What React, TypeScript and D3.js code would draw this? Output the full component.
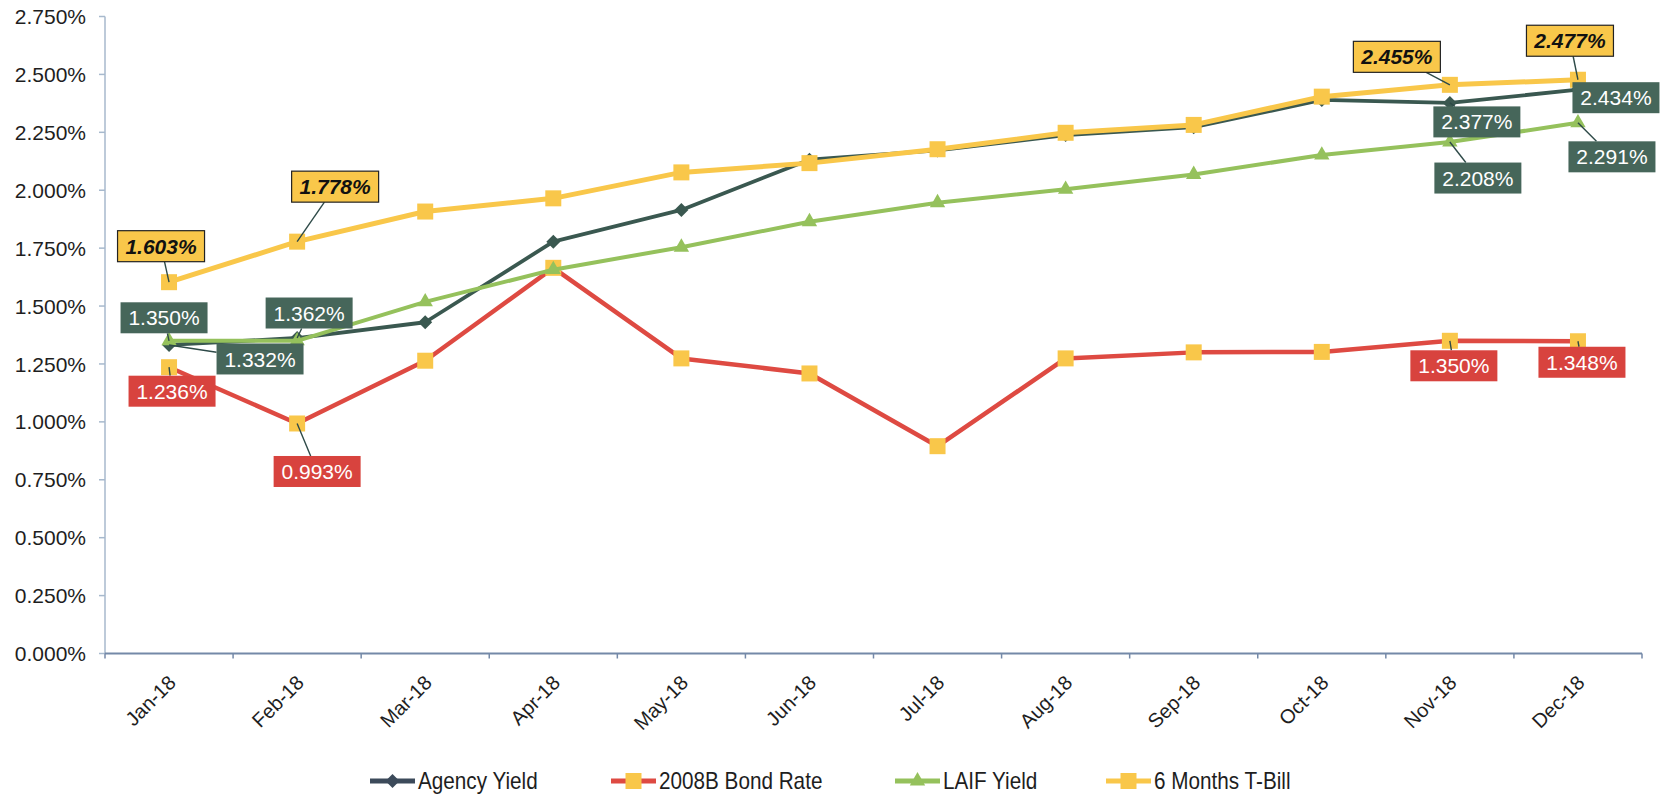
import React from "react";
import * as d3 from "d3";

// ---------- data ----------
const months = ["Jan-18", "Feb-18", "Mar-18", "Apr-18", "May-18", "Jun-18", "Jul-18", "Aug-18", "Sep-18", "Oct-18", "Nov-18", "Dec-18"];
const agencyYield = [1.332, 1.362, 1.43, 1.778, 1.915, 2.132, 2.172, 2.238, 2.272, 2.39, 2.377, 2.434];
const bondRate2008B = [1.236, 0.993, 1.264, 1.665, 1.274, 1.209, 0.895, 1.274, 1.3, 1.302, 1.35, 1.348];
const laifYield = [1.35, 1.35, 1.518, 1.657, 1.754, 1.864, 1.946, 2.004, 2.068, 2.152, 2.208, 2.291];
const tBill6M = [1.603, 1.778, 1.908, 1.965, 2.077, 2.117, 2.177, 2.248, 2.282, 2.404, 2.455, 2.477];
const yTicks = [0, 0.25, 0.5, 0.75, 1.0, 1.25, 1.5, 1.75, 2.0, 2.25, 2.5, 2.75];
const seriesNames = ["Agency Yield", "2008B Bond Rate", "LAIF Yield", "6 Months T-Bill"];

// ---------- layout / style ----------
const W = 1666, H = 796;
const L = 105, R = 1642, T = 16.5, B = 653.5;
const FONT = "'Liberation Sans', Arial, Helvetica, sans-serif";

const C_AGENCY = "#3a5850";
const C_AGENCY_LEG = "#3c4a5a";
const C_RED = "#de4a42";
const C_LAIF = "#95c15c";
const C_YEL = "#f9c74a";
const LBL_GREEN = "#46665a";
const LBL_RED = "#d8433e";

type Sty = {
  name: string; values: number[]; line: string; lw: number; marker: "diamond" | "square" | "triangle"; mfill: string; msize: number; legColor: string;
};
const series: Sty[] = [
  { name: seriesNames[0], values: agencyYield, line: C_AGENCY, lw: 3.8, marker: "diamond", mfill: C_AGENCY, msize: 7, legColor: C_AGENCY_LEG },
  { name: seriesNames[1], values: bondRate2008B, line: C_RED, lw: 4.5, marker: "square", mfill: C_YEL, msize: 8, legColor: C_RED },
  { name: seriesNames[2], values: laifYield, line: C_LAIF, lw: 4, marker: "triangle", mfill: C_LAIF, msize: 8, legColor: C_LAIF },
  { name: seriesNames[3], values: tBill6M, line: C_YEL, lw: 5, marker: "square", mfill: C_YEL, msize: 8, legColor: C_YEL },
];

// data labels: series index, point index, offset of box center from point, kind
const labels = [
  { s: 3, i: 0, dx: -8, dy: -36, kind: "yellow" },
  { s: 3, i: 1, dx: 38, dy: -55, kind: "yellow" },
  { s: 3, i: 10, dx: -53, dy: -28, kind: "yellow" },
  { s: 3, i: 11, dx: -8, dy: -39, kind: "yellow" },
  { s: 0, i: 0, dx: 91, dy: 14, kind: "green" },
  { s: 2, i: 0, dx: -5, dy: -23, kind: "green" },
  { s: 0, i: 1, dx: 12, dy: -25, kind: "green" },
  { s: 0, i: 10, dx: 27, dy: 19, kind: "green" },
  { s: 2, i: 10, dx: 28, dy: 36, kind: "green" },
  { s: 0, i: 11, dx: 38, dy: 8, kind: "green" },
  { s: 2, i: 11, dx: 34, dy: 34, kind: "green" },
  { s: 1, i: 0, dx: 3, dy: 24, kind: "red" },
  { s: 1, i: 1, dx: 20, dy: 48, kind: "red" },
  { s: 1, i: 10, dx: 4, dy: 25, kind: "red" },
  { s: 1, i: 11, dx: 4, dy: 21, kind: "red" },
];

const legendX = [370, 611, 895, 1106];
const legendY = 781;

function markerPath(kind: string, r: number): string {
  if (kind === "diamond") return `M0,${-r}L${r},0L0,${r}L${-r},0Z`;
  if (kind === "square") return `M${-r},${-r}H${r}V${r}H${-r}Z`;
  return d3.symbol(d3.symbolTriangle, r * r * 1.6)() as string;
}

export default function App() {
  const x = d3.scaleBand<string>().domain(months).range([L, R]).padding(0);
  const bw = x.bandwidth();
  const cx = (i: number) => (x(months[i]) as number) + bw / 2;
  const y = d3.scaleLinear().domain([0, 2.75]).range([B, T]);
  const line = d3.line<number>().x((_, i) => cx(i)).y((v) => y(v));
  const fmt = (v: number) => v.toFixed(3) + "%";
  const boxW = 87, boxH = 31;

  return (
    <svg width={W} height={H} style={{ position: "absolute", left: 0, top: 0, background: "#fff" }} fontFamily={FONT}>
      <rect x={0} y={0} width={W} height={H} fill="#fff" />
      {/* y axis */}
      <line x1={L} x2={L} y1={T} y2={B} stroke="#a7b9cd" strokeWidth={1.5} />
      {yTicks.map((t) => (
        <g key={t}>
          <line x1={L - 6} x2={L} y1={y(t)} y2={y(t)} stroke="#a7b9cd" strokeWidth={1.5} />
          <text x={86} y={y(t)} dy="0.36em" textAnchor="end" fontSize={21} fill="#1e1e1e">{t.toFixed(3) + "%"}</text>
        </g>
      ))}
      {/* x axis */}
      <line x1={L} x2={R} y1={B} y2={B} stroke="#7489a8" strokeWidth={1.8} />
      {d3.range(months.length + 1).map((k) => (
        <line key={k} x1={L + k * bw} x2={L + k * bw} y1={B} y2={B + 5} stroke="#7489a8" strokeWidth={1.5} />
      ))}
      {months.map((m, i) => (
        <text key={m} transform={`translate(${cx(i) + 8},${684}) rotate(-45)`} textAnchor="end" fontSize={20} fill="#1e1e1e">{m}</text>
      ))}
      {/* series */}
      {series.map((s) => (
        <g key={s.name}>
          <path d={line(s.values) as string} fill="none" stroke={s.line} strokeWidth={s.lw} strokeLinejoin="round" />
          {s.values.map((v, i) => (
            <path key={i} d={markerPath(s.marker, s.msize)} transform={`translate(${cx(i)},${y(v)})`} fill={s.mfill} />
          ))}
        </g>
      ))}
      {/* data labels */}
      {labels.map((lb, k) => {
        const v = series[lb.s].values[lb.i];
        const px = cx(lb.i), py = y(v);
        const bx = px + lb.dx, by = py + lb.dy;
        const x0 = bx - boxW / 2, y0 = by - boxH / 2;
        // exit point of ray from box center to data point
        const vx = px - bx, vy = py - by;
        const tx = vx !== 0 ? (boxW / 2) / Math.abs(vx) : Infinity;
        const ty = vy !== 0 ? (boxH / 2) / Math.abs(vy) : Infinity;
        const tt = Math.min(tx, ty, 1);
        const ex = bx + vx * tt, ey = by + vy * tt;
        const fill = lb.kind === "yellow" ? C_YEL : lb.kind === "red" ? LBL_RED : LBL_GREEN;
        return (
          <g key={k}>
            <line x1={ex} y1={ey} x2={px} y2={py} stroke="#2e4a48" strokeWidth={1.4} />
            <rect x={x0} y={y0} width={boxW} height={boxH} fill={fill} stroke={lb.kind === "yellow" ? "#222" : "none"} strokeWidth={1.2} />
            <text x={bx} y={by} dy="0.36em" textAnchor="middle" fontSize={21}
              fill={lb.kind === "yellow" ? "#111" : "#fff"}
              fontWeight={lb.kind === "yellow" ? "bold" : "normal"}
              fontStyle={lb.kind === "yellow" ? "italic" : "normal"}>{fmt(v)}</text>
          </g>
        );
      })}
      {/* legend */}
      {series.map((s, si) => (
        <g key={s.name} transform={`translate(${legendX[si]},${legendY})`}>
          <line x1={0} x2={45} y1={0} y2={0} stroke={s.legColor} strokeWidth={5} />
          <path d={markerPath(s.marker, s.msize)} transform="translate(22.5,0)" fill={si === 0 ? s.legColor : s.mfill} />
          <text transform="translate(48,0) scale(0.9,1)" dy="0.36em" fontSize={23} fill="#1e1e1e">{s.name}</text>
        </g>
      ))}
    </svg>
  );
}
